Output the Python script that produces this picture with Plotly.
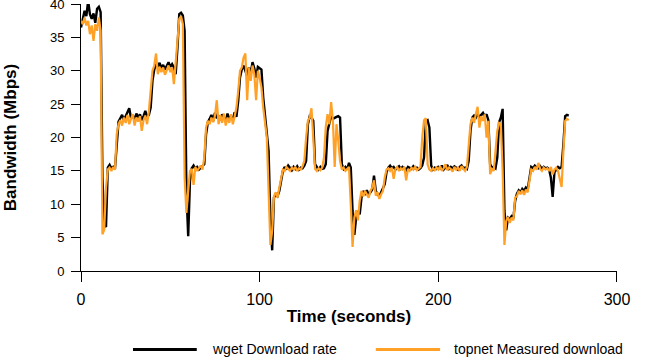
import plotly.graph_objects as go

# Bandwidth samples, one per second (Mbps)
wget_rate = [
    36.5, 38.0, 39.0, 38.2, 40.5, 38.5, 37.8, 38.6, 37.2, 39.3,
    39.6, 38.8, 14.0, 7.0, 6.6, 15.5, 15.9, 15.4, 15.6, 15.3,
    18.5, 22.4, 22.9, 23.4, 22.6, 23.1, 23.8, 24.4, 22.9, 23.3,
    22.7, 23.6, 23.0, 23.5, 22.6, 23.2, 24.0, 23.1, 23.4, 24.5,
    28.5, 30.2, 31.0, 30.6, 31.2, 30.4, 30.9, 30.2, 30.8, 31.3,
    30.6, 31.0, 30.5, 29.5, 33.5, 38.5, 38.7, 38.3, 36.0, 12.0,
    5.2, 13.5, 15.4, 15.8, 15.3, 15.6, 15.2, 15.5, 15.8, 16.0,
    20.5, 22.3, 22.8, 23.4, 22.5, 23.7, 22.9, 23.3, 22.6, 23.5,
    23.0, 22.4, 23.6, 22.8, 23.2, 22.7, 23.8, 23.1, 25.5, 29.0,
    30.2, 30.8, 30.0, 29.2, 30.5, 29.6, 31.3, 30.4, 29.0, 30.6,
    30.4, 30.2, 26.0, 23.0, 21.0, 18.0, 8.0, 3.1, 11.0, 11.5,
    11.2, 12.0, 13.5, 15.0, 15.6, 15.2, 15.8, 15.4, 15.1, 15.6,
    15.3, 15.7, 15.2, 15.5, 15.4, 15.8, 16.5, 22.0, 23.2, 23.0,
    22.5, 16.0, 15.5, 15.2, 15.6, 15.3, 15.4, 16.0, 21.0, 22.3,
    23.2, 22.8, 23.0, 23.1, 23.2, 23.0, 16.0, 15.3, 15.6, 15.2,
    16.2, 15.5, 9.0, 5.4, 8.0, 9.0, 8.5, 11.0, 12.0, 11.6,
    12.1, 11.4, 11.8, 12.2, 14.3, 12.0, 11.5, 11.2, 11.8, 12.3,
    13.0, 14.8, 15.5, 15.8, 15.4, 15.6, 15.2, 15.5, 15.7, 15.3,
    15.6, 15.4, 15.1, 15.6, 15.5, 15.3, 15.7, 15.4, 15.5, 15.2,
    15.4, 15.8, 17.0, 22.4, 22.6, 21.5, 15.8, 15.2, 15.5, 15.3,
    15.6, 15.4, 15.8, 15.2, 15.5, 15.9, 15.3, 15.6, 15.4, 15.7,
    15.5, 15.2, 15.6, 15.8, 15.4, 15.5, 15.3, 16.5, 21.0, 23.0,
    23.3, 23.0, 23.5, 23.1, 23.4, 23.7, 23.2, 23.5, 22.6, 16.0,
    15.5, 15.6, 15.4, 17.0, 22.3, 23.0, 24.3, 9.0, 6.1, 8.0,
    7.8, 8.2, 7.9, 10.5, 11.6, 12.1, 11.8, 12.3, 12.0, 12.5,
    12.2, 14.0, 15.6, 15.4, 15.8, 15.5, 15.4, 15.7, 15.3, 15.6,
    15.4, 15.5, 15.2, 14.0, 11.1, 14.8, 15.3, 15.6, 15.4, 15.6,
    19.0, 23.2, 23.4, 23.3,
]

topnet_rate = [
    37.5, 37.0, 38.0, 36.8, 37.5, 35.5, 36.8, 34.5, 37.0, 36.0,
    38.0, 36.0, 5.5, 6.2, 12.5, 15.2, 15.5, 15.0, 15.6, 15.2,
    20.5, 22.0, 22.6, 21.8, 23.0, 22.2, 23.4, 22.0, 22.8, 23.5,
    21.8, 23.0, 22.4, 23.2, 21.0, 22.6, 23.3, 22.0, 24.0, 27.5,
    30.0, 30.8, 32.6, 29.5, 30.6, 29.8, 30.5, 29.4, 30.2, 30.8,
    29.8, 30.5, 28.0, 31.2, 35.6, 37.8, 38.2, 37.0, 14.0, 8.7,
    12.0, 15.0, 15.3, 12.9, 15.6, 15.0, 15.4, 15.8, 15.2, 17.0,
    21.5, 22.5, 22.0, 23.0, 22.3, 23.3, 25.6, 22.0, 23.4, 22.2,
    23.6, 21.8, 23.0, 22.2, 23.5, 22.0, 23.2, 24.5, 27.0, 30.0,
    30.5, 32.0, 32.6, 25.6, 30.5, 28.5, 30.8, 29.5, 25.6, 30.0,
    29.0, 27.5, 24.5, 22.0, 20.0, 12.0, 3.9, 6.0, 11.2, 11.8,
    11.0, 12.5, 14.2, 15.2, 15.0, 15.6, 15.3, 15.0, 15.5, 15.2,
    15.6, 15.0, 15.4, 15.2, 15.7, 16.5, 20.0, 22.5, 23.0, 24.4,
    20.0, 15.3, 15.0, 15.4, 15.1, 15.5, 17.0, 21.6, 23.5, 22.0,
    25.3, 22.5, 15.6, 22.0, 19.5, 16.5, 15.2, 15.5, 15.0, 15.4,
    15.6, 10.0, 3.6, 8.0, 9.1, 7.6, 10.5, 12.0, 11.2, 12.0,
    11.5, 11.0, 12.0, 12.5, 13.6, 11.3, 11.8, 10.8, 11.5, 12.0,
    14.0, 15.2, 15.4, 15.0, 15.5, 13.8, 15.3, 15.6, 15.0, 15.4,
    15.2, 15.6, 13.6, 15.3, 15.0, 15.5, 15.2, 15.6, 15.1, 15.4,
    15.6, 20.0, 22.6, 22.9, 16.0, 15.2, 15.0, 15.4, 15.1, 15.5,
    15.2, 15.7, 15.0, 15.4, 16.0, 15.1, 15.5, 15.3, 14.9, 15.6,
    15.2, 15.5, 15.0, 15.7, 15.3, 15.0, 15.6, 19.5, 22.0, 23.0,
    22.2, 23.5, 24.6, 21.5, 23.2, 22.5, 23.5, 20.0, 22.5, 14.5,
    15.3, 15.0, 17.5, 21.0, 22.2, 22.0, 15.0, 3.9, 7.5, 8.1,
    7.2, 8.0, 7.6, 11.0, 11.2, 12.0, 11.5, 12.1, 11.4, 12.2,
    11.8, 13.5, 15.2, 15.0, 15.6, 15.2, 16.2, 15.3, 15.0, 15.5,
    15.2, 15.4, 15.0, 15.6, 14.5, 15.2, 15.5, 15.0, 14.0, 12.6,
    18.0, 22.5, 22.8, 22.6,
]

seconds = list(range(len(wget_rate)))

x_ticks = [0, 100, 200, 300]
y_ticks = [0, 5, 10, 15, 20, 25, 30, 35, 40]
series_names = ["wget Download rate", "topnet Measured download"]
series_colors = ["#000000", "#FFA126"]

FONT = "Liberation Sans, Arial, sans-serif"

fig = go.Figure()
fig.add_trace(go.Scatter(x=seconds, y=wget_rate, mode="lines", name=series_names[0],
                         line=dict(color=series_colors[0], width=2.4), showlegend=False))
fig.add_trace(go.Scatter(x=seconds, y=topnet_rate, mode="lines", name=series_names[1],
                         line=dict(color=series_colors[1], width=2.2), showlegend=False))

# Custom legend below the plot (line samples + labels)
legend_y = -0.294
legend_items = [
    (0.097, 0.216, 0.240),
    (0.550, 0.670, 0.692),
]
for (x0, x1, xt), name, col in zip(legend_items, series_names, series_colors):
    fig.add_shape(type="line", xref="paper", yref="paper", x0=x0, x1=x1,
                  y0=legend_y, y1=legend_y, line=dict(color=col, width=3))
    fig.add_annotation(xref="paper", yref="paper", x=xt, y=legend_y, text=name,
                       showarrow=False, xanchor="left", yanchor="middle",
                       font=dict(family=FONT, size=14, color="black"))

fig.update_layout(
    width=649, height=363, autosize=False,
    margin=dict(l=81, r=32, t=4, b=92, autoexpand=False),
    plot_bgcolor="white", paper_bgcolor="white",
    font=dict(family=FONT, color="black"),
)
fig.update_xaxes(
    range=[0, 300.01], tickvals=x_ticks, ticktext=[str(v) for v in x_ticks],
    showline=True, linecolor="black", linewidth=1, automargin=False,
    ticks="outside", ticklen=10, tickwidth=1, tickcolor="black",
    showgrid=False, zeroline=False, ticklabelstandoff=4, ticklabeloverflow="allow",
    tickfont=dict(family=FONT, size=16),
    title=dict(text="<b>Time (seconds)</b>", font=dict(family=FONT, size=17), standoff=2),
)
fig.update_yaxes(
    range=[0, 40.02], tickvals=y_ticks, ticktext=[str(v) for v in y_ticks],
    showline=True, linecolor="black", linewidth=1, automargin=False,
    ticks="outside", ticklen=9, tickwidth=1, tickcolor="black",
    showgrid=False, zeroline=False, ticklabelstandoff=4, ticklabeloverflow="allow",
    tickfont=dict(family=FONT, size=13),
    title=dict(text="<b>Bandwidth (Mbps)</b>", font=dict(family=FONT, size=17), standoff=28),
)

fig.write_html("out.html", config={"displayModeBar": False},
               post_script="document.body.style.margin='0';document.body.style.overflow='hidden';")
